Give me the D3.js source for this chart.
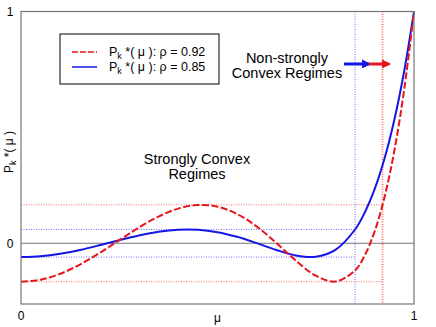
<!DOCTYPE html>
<html>
<head>
<meta charset="utf-8">
<script src="https://cdn.jsdelivr.net/npm/d3@7"></script>
<style>
  body { margin: 0; background: #fff; }
  text { font-family: "Liberation Sans", Arial, sans-serif; fill: #000; }
</style>
</head>
<body>
<div id="wrapper"></div>
<script>
const muRed = [0, 0.05, 0.1, 0.15, 0.2, 0.25, 0.3, 0.35, 0.4, 0.45, 0.5, 0.55, 0.6, 0.65,
  0.7, 0.75, 0.8, 0.85, 0.875, 0.9, 0.925, 0.95, 0.975, 1];
const redP = [-0.166, -0.157, -0.1315, -0.0919, -0.0419, 0.0133, 0.0679, 0.1154, 0.1496, 0.1651,
  0.1579, 0.1263, 0.072, 0.0008, -0.0758, -0.1399, -0.1654, -0.1171, -0.0511, 0.0516, 0.199,
  0.3996, 0.663, 1];

const muBlue = [0, 0.05, 0.1, 0.15, 0.2, 0.25, 0.3, 0.35, 0.4, 0.45, 0.5, 0.55, 0.6, 0.65,
  0.7, 0.75, 0.8, 0.85, 0.875, 0.9, 0.925, 0.95, 0.975, 1];
const blueP = [-0.0595, -0.0558, -0.0452, -0.0289, -0.0086, 0.013, 0.0333, 0.0493, 0.0583, 0.0582,
  0.048, 0.028, 0.0006, -0.0291, -0.0528, -0.0583, -0.0284, 0.0595, 0.134, 0.2345, 0.3657,
  0.533, 0.7423, 1];

const rhoValues = [0.92, 0.85];
const rippleLevels = [0.166, 0.0595];
const seriesColors = ["#e8141c", "#1515e6"];
const dottedColors = ["#ff6b6b", "#6b6bff"];
const legendLabels = ["0.92", "0.85"];

const dimensions = {
  width: 436,
  height: 327,
  margin: { top: 11.5, right: 22, bottom: 23, left: 21 },
};
dimensions.boundedWidth = dimensions.width - dimensions.margin.left - dimensions.margin.right;
dimensions.boundedHeight = dimensions.height - dimensions.margin.top - dimensions.margin.bottom;

const wrapper = d3.select("#wrapper")
  .append("svg")
  .attr("width", dimensions.width)
  .attr("height", dimensions.height);

const bounds = wrapper.append("g")
  .attr("transform", `translate(${dimensions.margin.left},${dimensions.margin.top})`);

const xScale = d3.scaleLinear().domain([0, 1]).range([0, dimensions.boundedWidth]);
const yScale = d3.scaleLinear().domain([-0.262, 1]).range([dimensions.boundedHeight, 0]);

// zero line
bounds.append("line")
  .attr("x1", 0).attr("x2", dimensions.boundedWidth)
  .attr("y1", yScale(0)).attr("y2", yScale(0))
  .attr("stroke", "#777").attr("stroke-width", 1);

// dotted guide lines for each rho
rhoValues.forEach((rho, i) => {
  const g = bounds.append("g")
    .attr("stroke", dottedColors[i])
    .attr("stroke-width", 1)
    .attr("stroke-dasharray", "1,1.5");
  g.append("line")
    .attr("x1", xScale(rho)).attr("x2", xScale(rho))
    .attr("y1", 0).attr("y2", dimensions.boundedHeight)
    .attr("stroke-width", i === 0 ? 1.8 : 1);
  [rippleLevels[i], -rippleLevels[i]].forEach((lv) => {
    g.append("line")
      .attr("x1", 0).attr("x2", xScale(rho))
      .attr("y1", yScale(lv)).attr("y2", yScale(lv));
  });
});

const lineGenerator = d3.line()
  .x((d) => xScale(d[0]))
  .y((d) => yScale(d[1]))
  .curve(d3.curveCatmullRom);

bounds.append("path")
  .datum(muBlue.map((m, i) => [m, blueP[i]]))
  .attr("fill", "none")
  .attr("stroke", seriesColors[1])
  .attr("stroke-width", 2)
  .attr("d", lineGenerator);

bounds.append("path")
  .datum(muRed.map((m, i) => [m, redP[i]]))
  .attr("fill", "none")
  .attr("stroke", seriesColors[0])
  .attr("stroke-width", 2)
  .attr("stroke-dasharray", "7,2.5")
  .attr("d", lineGenerator);

// frame
bounds.append("rect")
  .attr("width", dimensions.boundedWidth)
  .attr("height", dimensions.boundedHeight)
  .attr("fill", "none")
  .attr("stroke", "#777")
  .attr("stroke-width", 1.2);

// tick labels
const tickFont = 12;
[[0, "0"], [1, "1"]].forEach(([v, t]) => {
  bounds.append("text")
    .attr("x", -11).attr("y", yScale(v) + 4.5)
    .attr("text-anchor", "middle")
    .style("font-size", `${tickFont}px`)
    .text(t);
  bounds.append("text")
    .attr("x", xScale(v)).attr("y", dimensions.boundedHeight + 16)
    .attr("text-anchor", "middle")
    .style("font-size", `${tickFont}px`)
    .text(t);
});

bounds.append("text")
  .attr("x", xScale(0.5)).attr("y", dimensions.boundedHeight + 18)
  .attr("text-anchor", "middle")
  .style("font-size", "12px")
  .text("μ");

// y label
const yLabel = wrapper.append("text")
  .attr("transform", "translate(13,152) rotate(-90)")
  .attr("text-anchor", "middle")
  .style("font-size", "12px");
yLabel.append("tspan").text("P");
yLabel.append("tspan").attr("dy", 3).style("font-size", "9px").text("k");
yLabel.append("tspan").attr("dy", -3).text(" *( μ )");

// legend
const legend = wrapper.append("g").attr("transform", "translate(60,34)");
legend.append("rect")
  .attr("width", 159).attr("height", 50)
  .attr("fill", "#fff").attr("stroke", "#000").attr("stroke-width", 1);
legendLabels.forEach((lab, i) => {
  const yy = 18 + i * 15;
  legend.append("line")
    .attr("x1", 12).attr("x2", 37)
    .attr("y1", yy).attr("y2", yy)
    .attr("stroke", seriesColors[i])
    .attr("stroke-width", 1.5)
    .attr("stroke-dasharray", i === 0 ? "6,2" : null);
  const t = legend.append("text")
    .attr("x", 49).attr("y", yy + 4)
    .style("font-size", "12.5px");
  t.append("tspan").text("P");
  t.append("tspan").attr("dy", 3).style("font-size", "9px").text("k");
  t.append("tspan").attr("dy", -3).text(` *( μ ): ρ = ${lab}`);
});

// annotations
const note = (lines, cx, y0) => {
  lines.forEach((s, i) => {
    bounds.append("text")
      .attr("x", cx).attr("y", y0 + i * 15)
      .attr("text-anchor", "middle")
      .style("font-size", "14.5px")
      .text(s);
  });
};
note(["Non-strongly", "Convex Regimes"], 266, 51);
note(["Strongly Convex", "Regimes"], 176, 152);

// arrows
const defs = wrapper.append("defs");
seriesColors.forEach((c, i) => {
  defs.append("marker")
    .attr("id", `head${i}`)
    .attr("viewBox", "0 0 10 10")
    .attr("refX", 8).attr("refY", 5)
    .attr("markerWidth", 3.2).attr("markerHeight", 3)
    .attr("markerUnits", "strokeWidth")
    .attr("orient", "auto")
    .append("path").attr("d", "M0,0 L10,5 L0,10 Z").attr("fill", c);
});
const arrowY = yScale(0.7735);
const arrowStops = [[0.822, 0.886], [0.886, 0.937]];
[1, 0].forEach((i) => {
  const [a, b] = arrowStops[i === 1 ? 0 : 1];
  bounds.append("line")
    .attr("x1", xScale(a)).attr("x2", xScale(b))
    .attr("y1", arrowY).attr("y2", arrowY)
    .attr("stroke", seriesColors[i])
    .attr("stroke-width", 3)
    .attr("marker-end", `url(#head${i})`);
});
</script>
</body>
</html>
